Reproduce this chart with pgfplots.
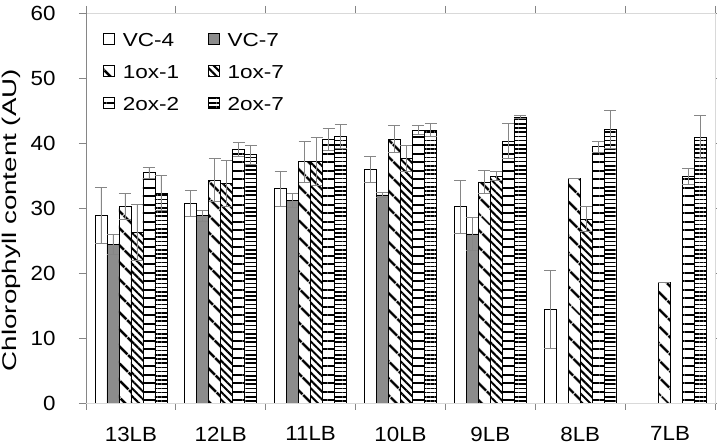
\documentclass[border=0pt]{standalone}
\usepackage{fontspec}
\setmainfont{Liberation Sans}
\newfontfamily\tickfont[FakeStretch=1.09]{Liberation Sans}
\newfontfamily\legfont[FakeStretch=1.2]{Liberation Sans}
\newfontfamily\labfont[FakeStretch=1.4]{Liberation Sans}
\usepackage{pgfplots}
\usepackage{pgfplotstable}
\pgfplotsset{compat=1.18}
\usetikzlibrary{patterns.meta}

\definecolor{axgray}{RGB}{134,134,134}
\definecolor{vcgray}{RGB}{140,140,140}
\definecolor{boxgray}{RGB}{217,217,217}

% x: 0=13LB,1=12LB,2=11LB,3=10LB,4=9LB,5=8LB,6=7LB
\pgfplotstableread{
x y e
0 28.8 4.3
1 30.7 2.0
2 33.0 2.7
3 35.9 2.0
4 30.2 4.1
5 14.4 6.0
}\vcfour
\pgfplotstableread{
x y e
0 24.4 1.5
1 28.8 0.8
2 31.2 1.1
3 32.0 0.4
4 26.0 2.5
}\vcseven
\pgfplotstableread{
x y e
0 30.3 2.0
1 34.3 3.3
2 37.1 3.1
3 40.6 2.1
4 34.0 1.8
5 34.5 0.0
6 18.5 0.0
}\oxoneone
\pgfplotstableread{
x y e
0 26.2 4.3
1 33.8 3.5
2 37.1 3.7
3 37.6 2.0
4 34.9 0.7
5 28.3 1.9
}\oxoneseven
\pgfplotstableread{
x y e
0 35.4 0.8
1 39.0 1.1
2 40.6 1.7
3 42.0 0.7
4 40.3 2.7
5 39.4 0.9
6 34.9 1.2
}\oxtwotwo
\pgfplotstableread{
x y e
0 32.3 2.7
1 38.2 1.5
2 41.0 1.8
3 42.0 1.0
4 44.0 0.2
5 42.1 2.9
6 40.9 3.3
}\oxtwoseven

\begin{document}
\begin{tikzpicture}
\begin{axis}[
  name=ax, at={(0,0)}, anchor=south west,
  scale only axis, width=629pt, height=390pt,
  xmin=-0.5, xmax=6.5, ymin=0, ymax=60,
  ybar=0pt, bar width=12pt,
  xtick={0,...,6},
  xticklabels={13LB,12LB,11LB,10LB,9LB,8LB,7LB},
  minor xtick={-0.5,0.5,...,6.5},
  ytick={0,10,...,60},
  tick align=outside,
  major tick length=7pt, minor tick length=7pt,
  major x tick style={draw=none},
  minor x tick style={draw=axgray, line width=0.8pt},
  major y tick style={draw=axgray, line width=0.8pt},
  axis line style={draw=boxgray, line width=0.8pt},
  tick label style={font=\tickfont\fontsize{20.5}{24}\selectfont, text=black},
  yticklabel style={xshift=-20pt},
  xticklabel style={inner sep=0pt, yshift=-16.5pt},
  /pgf/number format/assume math mode=true,
  ylabel={Chlorophyll content (AU)},
  every axis y label/.style={at={(rel axis cs:0,0.469)}, xshift=-74.5pt, rotate=90, anchor=center, font=\labfont\fontsize{19.8}{24}\selectfont},
  legend columns=2,
  legend cell align=left,
  legend image code/.code={\draw[#1] (0pt,-3.5pt) rectangle (11pt,7.5pt);},
  legend style={draw=none, fill=none, inner sep=0pt, outer sep=0pt,
     at={(axis description cs:0.027,0.949)}, anchor=north west,
     font=\legfont\fontsize{18.8}{23}\selectfont,
     nodes={inner sep=0pt},
     row sep=17pt,
     /tikz/every odd column/.append style={column sep=8pt},
     /tikz/every even column/.append style={column sep=28.5pt}},
  error bars/y dir=both, error bars/y explicit,
  error bars/error bar style={axgray, line width=0.8pt},
  error bars/error mark options={axgray, rotate=90, mark size=6pt, line width=0.8pt},
]
\addplot[fill=white, draw=black, line width=0.8pt] table[x=x, y=y, y error=e] {\vcfour};
\addlegendentry{VC-4}
\addplot[fill=vcgray, draw=black, line width=0.8pt] table[x=x, y=y, y error=e] {\vcseven};
\addlegendentry{VC-7}
\addplot[pattern={Lines[angle=-45,distance=13pt,line width=3pt]}, pattern color=black, draw=black, line width=0.8pt] table[x=x, y=y, y error=e] {\oxoneone};
\addlegendentry{1ox-1}
\addplot[pattern={Lines[angle=-45,distance=5.5pt,line width=2pt]}, pattern color=black, draw=black, line width=0.8pt] table[x=x, y=y, y error=e] {\oxoneseven};
\addlegendentry{1ox-7}
\addplot[pattern={Lines[angle=0,distance=8.5pt,line width=2pt]}, pattern color=black, draw=black, line width=0.8pt] table[x=x, y=y, y error=e] {\oxtwotwo};
\addlegendentry{2ox-2}
\addplot[pattern={Lines[angle=0,distance=4.2pt,line width=1.7pt]}, pattern color=black, draw=black, line width=0.8pt] table[x=x, y=y, y error=e] {\oxtwoseven};
\addlegendentry{2ox-7}
\draw[axgray, line width=0.8pt] (rel axis cs:0,1) -- (rel axis cs:0,0) -- (rel axis cs:1,0);
\end{axis}
\pgfresetboundingbox
\path[use as bounding box] (-86pt,-40pt) rectangle (631pt,403pt);
\end{tikzpicture}
\end{document}
